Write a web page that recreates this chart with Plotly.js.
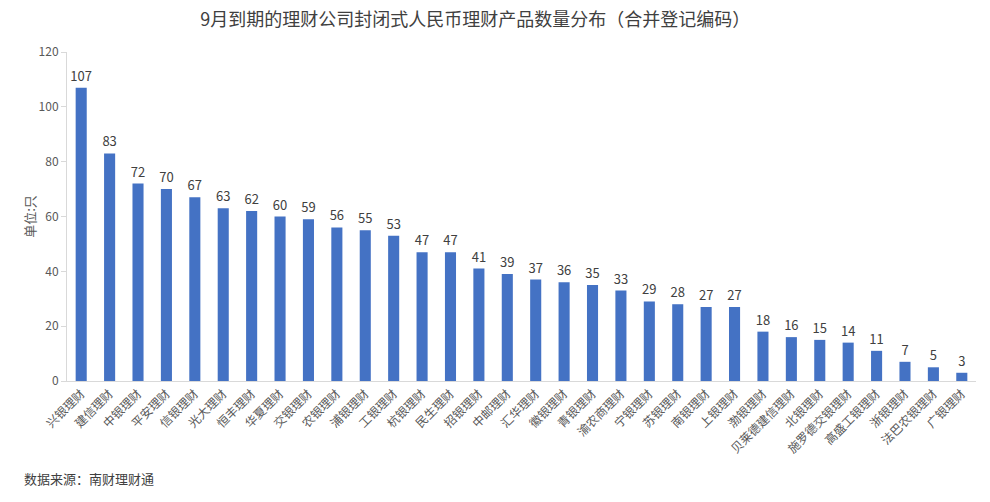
<!DOCTYPE html>
<html>
<head>
<meta charset="utf-8">
<script src="https://cdn.plot.ly/plotly-3.0.1.min.js"></script>
<style>
  body { margin: 0; background: #fff; }
  #chart { width: 990px; height: 502px; }
</style>
</head>
<body>
<div id="chart"></div>
<script>
const companies = ['兴银理财', '建信理财', '中银理财', '平安理财', '信银理财', '光大理财', '恒丰理财', '华夏理财',
    '交银理财', '农银理财', '浦银理财', '工银理财', '杭银理财', '民生理财', '招银理财', '中邮理财',
    '汇华理财', '徽银理财', '青银理财', '渝农商理财', '宁银理财', '苏银理财', '南银理财', '上银理财',
    '渤银理财', '贝莱德建信理财', '北银理财', '施罗德交银理财', '高盛工银理财', '浙银理财', '法巴农银理财', '广银理财'];
const counts = [107, 83, 72, 70, 67, 63, 62, 60, 59, 56, 55, 53, 47, 47, 41, 39,
    37, 36, 35, 33, 29, 28, 27, 27, 18, 16, 15, 14, 11, 7, 5, 3];
const yTicks = [0, 20, 40, 60, 80, 100, 120];

const font = '"Microsoft YaHei", "Noto Sans CJK SC", sans-serif';

let data = [{
    type: 'bar',
    x: companies,
    y: counts,
    text: counts.map(String),
    textposition: 'outside',
    constraintext: 'none',
    cliponaxis: false,
    textfont: { size: 13, color: '#404040' },
    marker: { color: '#4472C4' },
    hoverinfo: 'x+y'
}];

let layout = {
    width: 990,
    height: 502,
    margin: { l: 67, r: 14, t: 52, b: 121 },
    paper_bgcolor: '#fff',
    plot_bgcolor: '#fff',
    font: { family: font, size: 12, color: '#595959' },
    bargap: 0.61,
    showlegend: false,
    title: {
        text: '9月到期的理财公司封闭式人民币理财产品数量分布（合并登记编码）',
        font: { size: 18, color: '#404040', family: font },
        xref: 'container', x: 0.48, xanchor: 'center',
        yref: 'container', y: 0.96, yanchor: 'middle'
    },
    xaxis: {
        type: 'category',
        tickangle: -45,
        tickfont: { size: 12, color: '#595959' },
        showline: true,
        linecolor: '#d9d9d9',
        ticks: '',
        showgrid: false
    },
    yaxis: {
        range: [0, 120],
        tickvals: yTicks,
        showline: true,
        linecolor: '#d9d9d9',
        ticks: 'outside',
        ticklen: 5,
        tickcolor: '#d9d9d9',
        showgrid: false,
        zeroline: false,
        tickfont: { size: 12, color: '#595959' },
        title: { text: '单位:只', font: { size: 13, color: '#595959' }, standoff: 0 }
    },
    annotations: [{
        text: '数据来源：南财理财通',
        xref: 'paper', yref: 'paper',
        x: -0.05, y: -0.295,
        xanchor: 'left', yanchor: 'middle',
        showarrow: false,
        font: { size: 13, color: '#404040' }
    }]
};

Plotly.newPlot('chart', data, layout, { displayModeBar: false });
</script>
</body>
</html>
